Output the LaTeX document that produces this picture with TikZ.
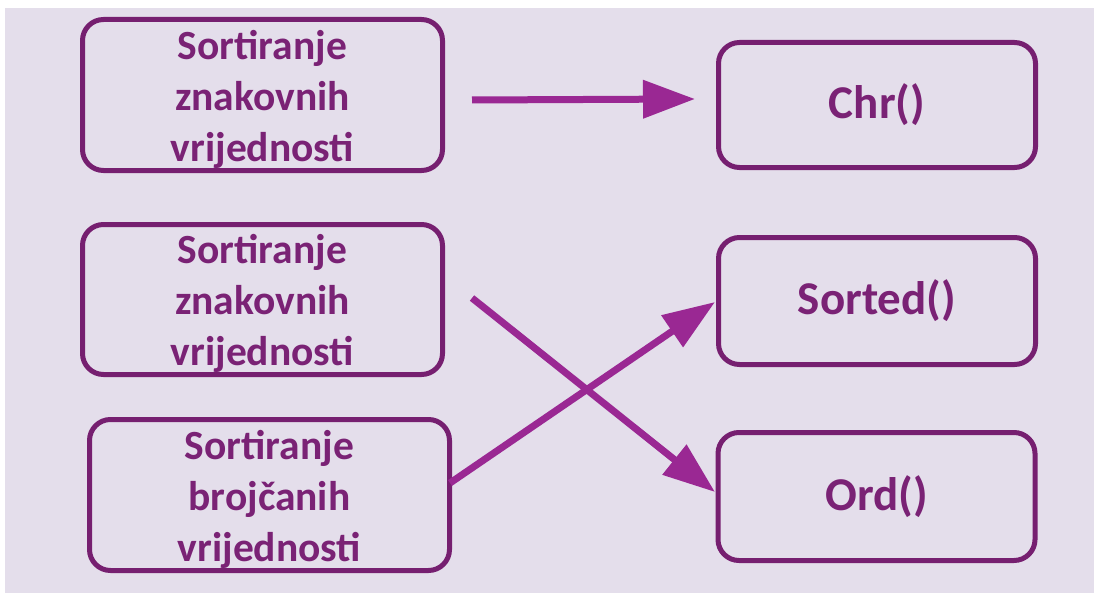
\documentclass[tikz,border=0pt]{standalone}
\usepackage{fontspec}
\setmainfont{Carlito}
\usetikzlibrary{arrows.meta}
\definecolor{bg}{HTML}{E4DEEB}
\definecolor{boxc}{HTML}{761F70}
\definecolor{arrc}{HTML}{9A2893}
\definecolor{txtc}{HTML}{7A2275}
\tikzset{
  box/.style={draw=boxc, line width=5pt, rounded corners=21pt, inner sep=0pt},
  lbox/.style={box, minimum width=360pt, minimum height=151pt},
  rbox/.style={box, minimum width=317pt, minimum height=127pt},
  ltext/.style={text=txtc, align=center, inner sep=0pt, font=\bfseries\fontsize{41.5}{51}\selectfont},
  rtext/.style={text=txtc, inner sep=0pt, font=\bfseries\fontsize{47}{58}\selectfont},
  arr/.style={draw=arrc, line width=7pt, -{Triangle[length=52pt,width=37pt]}}
}
\begin{document}
\begin{tikzpicture}[x=1pt,y=-1pt]
\useasboundingbox (0,0) rectangle (1094,599);
\fill[white] (0,0) rectangle (1094,599);
\fill[bg] (5,8) rectangle (1094,593);
% left boxes
\node[lbox] (b1) at (262.5,95) {};
\node[lbox, minimum height=150pt] (b2) at (262.5,299.5) {};
\node[lbox] (b3) at (269.5,495) {};
\node[ltext] (b1t) at ([yshift=-4pt]b1.center) {Sortiranje\\znakovnih\\vrijednosti};
\node[ltext] (b2t) at ([yshift=-4pt]b2.center) {Sortiranje\\znakovnih\\vrijednosti};
\node[ltext] (b3t) at ([yshift=-4pt]b3.center) {Sortiranje\\brojčanih\\vrijednosti};
% right boxes
\node[rbox, minimum height=125pt] (chr) at (877,105) {};
\node[rbox] (srt) at (877,301) {};
\node[rbox, minimum height=128pt] (ord) at (876.5,496.5) {};
\node[rtext] (chrt) at (chr.center) {Chr()};
\node[rtext] (srtt) at (srt.center) {Sorted()};
\node[rtext] (ordt) at (ord.center) {Ord()};
% connector ends
\coordinate (a1s) at (472,100);
\coordinate (a1e) at (695,99);
\coordinate (a2s) at (472,298);
\coordinate (a2e) at (715,492);
\coordinate (a3s) at (450,483);
\coordinate (a3e) at (715,302);
\draw[arr] (a1s) -- (a1e);
\draw[arr] (a2s) -- (a2e);
\draw[arr] (a3s) -- (a3e);
\end{tikzpicture}
\end{document}
